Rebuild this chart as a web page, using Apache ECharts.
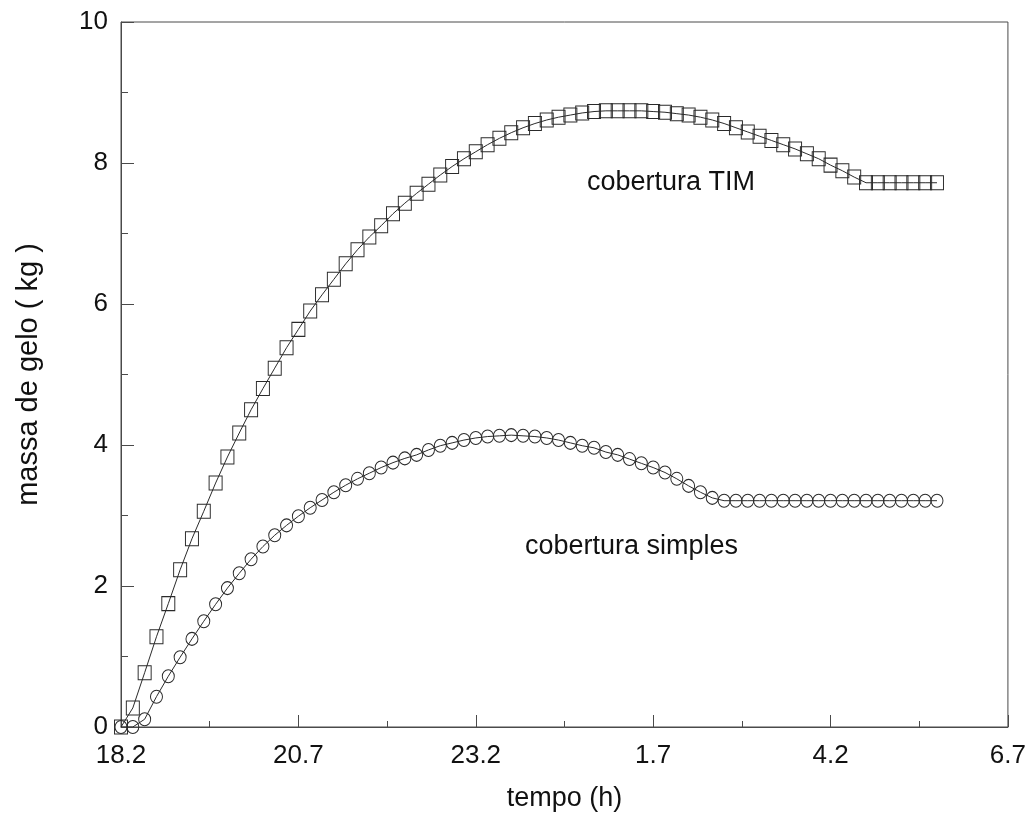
<!DOCTYPE html>
<html>
<head>
<meta charset="utf-8">
<script src="https://cdn.jsdelivr.net/npm/echarts@6/dist/echarts.min.js"></script>
<style>
  html, body { margin: 0; padding: 0; background: #ffffff; }
  #chart { width: 1029px; height: 819px; }
</style>
</head>
<body>
<div id="chart"></div>
<script>
// Massa de gelo acumulada ao longo da noite, amostrada a cada 10 minutos a partir das 18.2 h
const passoHoras = 10 / 60;

// Rótulos do eixo do tempo (hora do dia), um a cada 2.5 h
const rotulosTempo = ['18.2', '20.7', '23.2', '1.7', '4.2', '6.7'];
const rotulosMassa = ['0', '2', '4', '6', '8', '10'];

// cobertura TIM (kg)
const massaTIM = [
  0.00, 0.27, 0.77, 1.28, 1.75, 2.23, 2.67, 3.06, 3.46, 3.83,
  4.17, 4.50, 4.80, 5.09, 5.38, 5.64, 5.90, 6.13, 6.35, 6.57,
  6.77, 6.95, 7.11, 7.28, 7.43, 7.57, 7.70, 7.83, 7.95, 8.06,
  8.16, 8.26, 8.35, 8.43, 8.50, 8.56, 8.61, 8.65, 8.68, 8.71,
  8.73, 8.74, 8.74, 8.74, 8.74, 8.73, 8.72, 8.70, 8.68, 8.65,
  8.61, 8.56, 8.50, 8.44, 8.38, 8.32, 8.26, 8.20, 8.13, 8.06,
  7.97, 7.89, 7.80, 7.72, 7.72, 7.72, 7.72, 7.72, 7.72, 7.72
];

// cobertura simples (kg)
const massaSimples = [
  0.00, 0.00, 0.11, 0.43, 0.72, 0.99, 1.25, 1.50, 1.74, 1.97,
  2.18, 2.38, 2.56, 2.72, 2.86, 2.99, 3.11, 3.22, 3.33, 3.43,
  3.52, 3.60, 3.68, 3.75, 3.81, 3.86, 3.93, 3.99, 4.03, 4.07,
  4.10, 4.12, 4.13, 4.14, 4.13, 4.12, 4.10, 4.07, 4.03, 3.99,
  3.96, 3.90, 3.86, 3.80, 3.74, 3.68, 3.61, 3.52, 3.42, 3.33,
  3.25, 3.21, 3.21, 3.21, 3.21, 3.21, 3.21, 3.21, 3.21, 3.21,
  3.21, 3.21, 3.21, 3.21, 3.21, 3.21, 3.21, 3.21, 3.21, 3.21
];

const fonte = '"Liberation Sans", Arial, sans-serif';
const corTraco = '#2a2a2a';

function pares(valores) {
  return valores.map((v, i) => [i * passoHoras, v]);
}

const chart = echarts.init(document.getElementById('chart'), null, { renderer: 'canvas' });

chart.setOption({
  animation: false,
  backgroundColor: '#ffffff',
  grid: {
    left: 121, right: 17, top: 22, bottom: 92,
    show: true, borderColor: '#4a4a4a', borderWidth: 1, backgroundColor: 'transparent'
  },
  xAxis: {
    type: 'value',
    min: 0, max: 12.5, interval: 2.5,
    name: 'tempo (h)',
    nameLocation: 'middle',
    nameGap: 58,
    nameTextStyle: { fontFamily: fonte, fontSize: 27, color: '#111' },
    axisLine: { show: true, lineStyle: { color: '#4a4a4a', width: 1 } },
    axisTick: { show: true, inside: true, length: 12, lineStyle: { color: '#4a4a4a' } },
    minorTick: { show: true, splitNumber: 2, length: 6, lineStyle: { color: '#4a4a4a' } },
    splitLine: { show: false },
    axisLabel: {
      fontFamily: fonte, fontSize: 26, color: '#111', margin: 16,
      formatter: v => rotulosTempo[Math.round(v / 2.5)]
    }
  },
  yAxis: {
    type: 'value',
    min: 0, max: 10, interval: 2,
    name: 'massa de gelo ( kg )',
    nameLocation: 'middle',
    nameGap: 78,
    nameRotate: 90,
    nameTextStyle: { fontFamily: fonte, fontSize: 29, color: '#111' },
    axisLine: { show: true, lineStyle: { color: '#4a4a4a', width: 1 } },
    axisTick: { show: true, inside: true, length: 13, lineStyle: { color: '#4a4a4a' } },
    minorTick: { show: true, splitNumber: 2, length: 7, lineStyle: { color: '#4a4a4a' } },
    splitLine: { show: false },
    axisLabel: {
      fontFamily: fonte, fontSize: 26, color: '#111', margin: 13,
      formatter: v => rotulosMassa[Math.round(v / 2)]
    }
  },
  series: [
    {
      name: 'cobertura simples',
      type: 'line',
      data: pares(massaSimples),
      symbol: 'circle',
      symbolSize: [12, 13],
      showAllSymbol: true,
      lineStyle: { color: corTraco, width: 1 },
      itemStyle: { color: 'rgba(0,0,0,0)', borderColor: corTraco, borderWidth: 1 },
      z: 2
    },
    {
      name: 'cobertura TIM',
      type: 'line',
      data: pares(massaTIM),
      symbol: 'rect',
      symbolSize: [13, 14],
      showAllSymbol: true,
      lineStyle: { color: corTraco, width: 1 },
      itemStyle: { color: 'rgba(0,0,0,0)', borderColor: corTraco, borderWidth: 1 },
      z: 3
    }
  ],
  graphic: [
    {
      type: 'text', x: 587, y: 183,
      style: { text: 'cobertura TIM', font: '27px ' + fonte, fill: '#111', textVerticalAlign: 'middle' }
    },
    {
      type: 'text', x: 525, y: 547,
      style: { text: 'cobertura simples', font: '27px ' + fonte, fill: '#111', textVerticalAlign: 'middle' }
    }
  ]
});
</script>
</body>
</html>
